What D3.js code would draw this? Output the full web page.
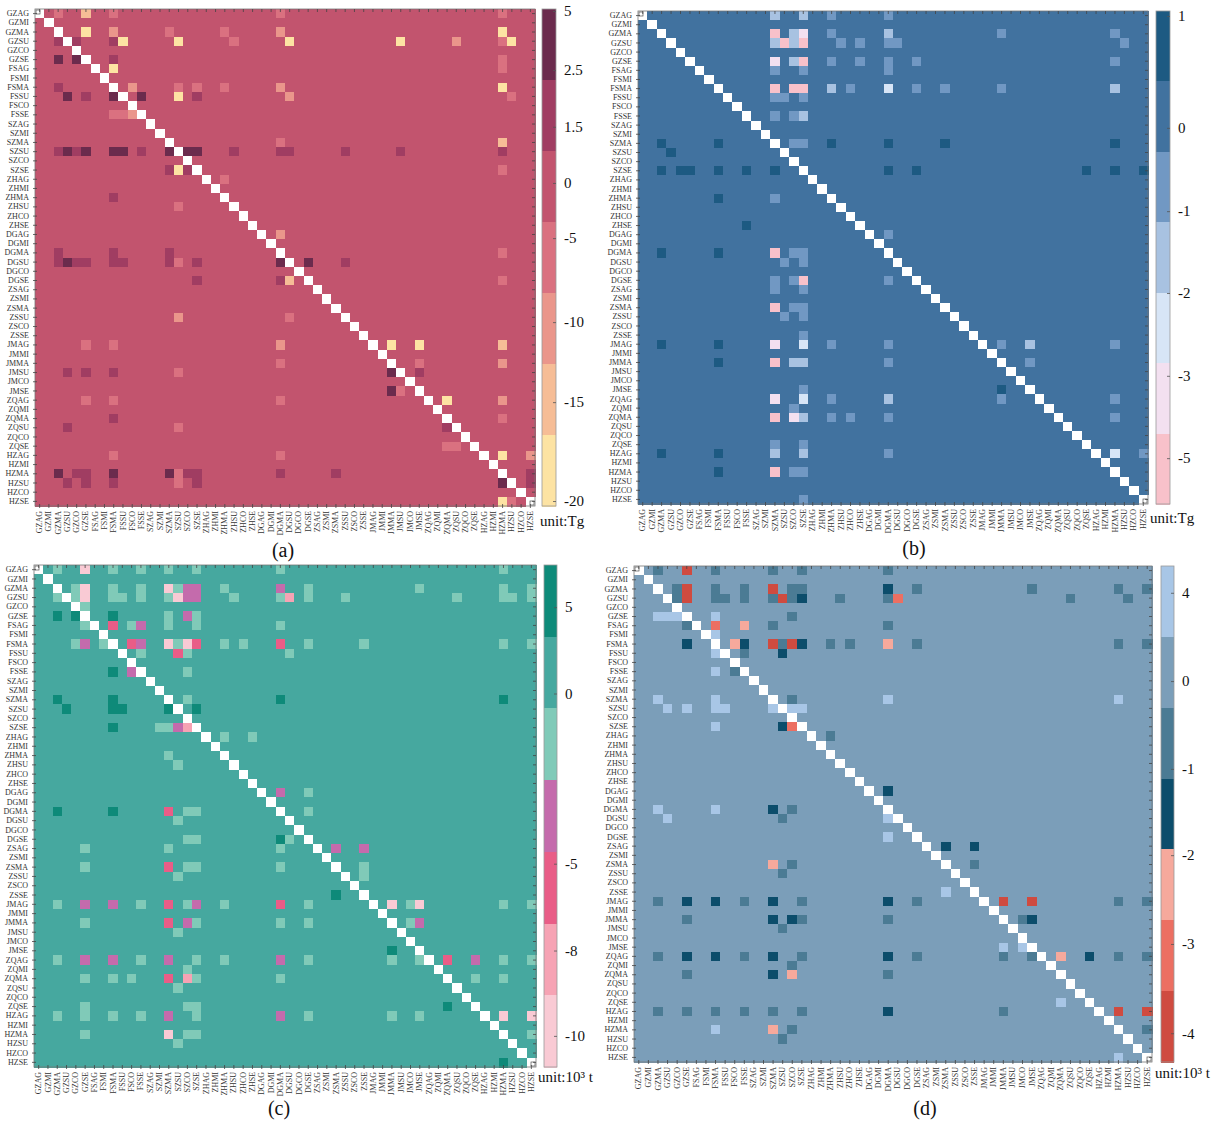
<!DOCTYPE html>
<html>
<head>
<meta charset="utf-8">
<script src="https://cdn.jsdelivr.net/npm/d3@7"></script>
<style>
  body { margin: 0; background: #fff; }
  svg { display: block; }
</style>
</head>
<body>
<svg id="chart" width="1213" height="1124"></svg>
<script>
// cities x sectors -> 54 row/column labels
const cities = ["GZ", "FS", "SZ", "ZH", "DG", "ZS", "JM", "ZQ", "HZ"];
const sectors = ["AG", "MI", "MA", "SU", "CO", "SE"];
const labels = cities.flatMap(c => sectors.map(s => c + s));

// non-background cells, [row, col, value]; everything else is ~0
const cellsA = [
  [0,2,-5],[0,5,-15],[0,8,-5],[0,26,-5],[0,50,-5],
  [2,5,-19],[2,8,-10],[2,14,-5],[2,20,-5],[2,26,-10],[2,50,-19],
  [3,2,1.8],[3,4,1.8],[3,8,1.8],[3,9,-19],[3,15,-19],[3,21,-5],[3,27,-19],[3,39,-19],[3,45,-10],[3,50,-5],[3,51,-19],
  [5,2,3.5],[5,4,3.5],[5,8,1.8],[5,50,-5],
  [6,8,-19],[6,50,-5],
  [8,2,1.8],[8,10,-10],[8,15,-5],[8,17,-5],[8,20,-5],[8,26,-10],[8,50,-19],
  [9,3,3.5],[9,5,1.8],[9,8,3.5],[9,11,3.5],[9,15,-19],[9,17,1.8],[9,27,-10],[9,51,-5],
  [11,8,-5],[11,9,-5],[11,10,-10],
  [14,26,-5],[14,50,-15],
  [15,2,1.8],[15,3,3.5],[15,4,1.8],[15,5,3.5],[15,8,3.5],[15,9,3.5],[15,11,1.8],[15,14,3.5],[15,16,3.5],[15,17,3.5],
  [15,21,1.8],[15,26,1.8],[15,27,1.8],[15,33,1.8],[15,39,1.8],[15,50,1.8],
  [17,14,1.8],[17,15,-19],[17,16,1.8],[17,50,-5],
  [18,20,-5],[20,8,1.8],[21,15,-5],[24,26,-10],
  [26,2,1.8],[26,8,1.8],[26,14,1.8],[26,50,-5],
  [27,2,1.8],[27,3,3.5],[27,4,1.8],[27,5,1.8],[27,8,1.8],[27,9,1.8],[27,14,1.8],[27,15,-5],[27,17,1.8],[27,26,3.5],[27,29,3.5],[27,33,1.8],
  [29,17,1.8],[29,26,1.8],[29,27,-15],[29,50,-5],
  [33,15,-10],[33,27,-5],
  [36,5,-5],[36,8,-5],[36,26,-10],[36,38,-19],[36,41,-19],[36,50,-15],
  [38,26,-5],[38,41,-5],[38,50,-10],
  [39,3,1.8],[39,5,1.8],[39,8,1.8],[39,15,-5],[39,38,3.5],[39,41,1.8],
  [41,38,3.5],[41,39,-5],
  [42,5,-5],[42,8,-5],[42,26,-5],[42,44,-19],[42,50,-10],
  [44,8,1.8],[44,50,-5],
  [45,3,1.8],[45,15,-5],[45,44,1.8],
  [47,44,-5],[47,45,-5],
  [48,8,-5],[48,26,-5],[48,50,-19],[48,53,-10],
  [50,2,3.5],[50,4,1.8],[50,5,1.8],[50,8,3.5],[50,14,3.5],[50,15,-5],[50,16,1.8],[50,17,1.8],[50,26,1.8],[50,32,1.8],[50,53,1.8],
  [51,3,1.8],[51,5,1.8],[51,8,1.8],[51,15,-5],[51,17,1.8],[51,50,3.5],[51,53,1.8],
  [53,50,-19],[53,51,-5]
];

const cellsB = [
  [0,14,-1.5],[0,17,-1.5],[0,20,-0.7],[0,26,-0.7],
  [2,14,-5],[2,16,-1.5],[2,17,-3.5],[2,20,-0.7],[2,26,-1.5],[2,38,-0.7],[2,50,-0.7],
  [3,14,-1.5],[3,15,-5],[3,16,-1.5],[3,17,-5],[3,21,-0.7],[3,23,-0.7],[3,26,-0.7],[3,27,-0.7],[3,51,-0.7],
  [5,14,-3.5],[5,16,-1.5],[5,17,-5],[5,20,-0.7],[5,23,-0.7],[5,26,-0.7],[5,29,-0.7],[5,50,-0.7],
  [6,14,-0.7],[6,17,-0.7],[6,26,-0.7],
  [8,14,-5],[8,16,-5],[8,17,-5],[8,20,-1.5],[8,22,-0.7],[8,26,-2.4],[8,29,-0.7],[8,32,-0.7],[8,38,-0.7],[8,50,-1.5],
  [9,14,-0.7],[9,15,-0.7],[9,17,-0.7],
  [11,14,-0.7],[11,16,-0.7],[11,17,-1.5],
  [14,2,0.7],[14,8,0.7],[14,16,-0.7],[14,17,-0.7],[14,20,0.7],[14,26,0.7],[14,32,0.7],[14,50,0.7],
  [15,3,0.7],
  [17,2,0.7],[17,4,0.7],[17,5,0.7],[17,8,0.7],[17,11,0.7],[17,14,0.7],[17,26,0.7],[17,29,0.7],[17,47,0.7],[17,50,0.7],[17,53,0.7],
  [20,8,0.7],[20,14,-0.7],[23,11,0.7],[24,26,-0.7],
  [26,2,0.7],[26,8,0.7],[26,14,-5],[26,16,-0.7],[26,17,-0.7],
  [27,15,-0.7],[27,17,-0.7],
  [29,14,-0.7],[29,16,-0.7],[29,17,-5],[29,26,-0.7],
  [30,14,-0.7],[30,17,-0.7],
  [32,14,-5],[32,16,-0.7],[32,17,-0.7],
  [33,15,-0.7],[33,17,-0.7],[35,17,-0.7],
  [36,2,0.7],[36,8,0.7],[36,14,-3.5],[36,17,-2.4],[36,20,-0.7],[36,26,-0.7],[36,38,-0.7],[36,41,-1.5],[36,50,-0.7],
  [38,8,0.7],[38,14,-5],[38,16,-1.5],[38,17,-1.5],[38,26,-0.7],[38,41,-0.7],
  [41,17,-0.7],[41,38,0.7],
  [42,14,-3.5],[42,17,-2.4],[42,20,-0.7],[42,26,-1.5],[42,38,-0.7],[42,50,-0.7],
  [43,16,-0.7],
  [44,14,-5],[44,16,-3.5],[44,17,-1.5],[44,20,-0.7],[44,22,-0.7],[44,26,-0.7],[44,50,-0.7],
  [47,14,-0.7],[47,17,-0.7],
  [48,2,0.7],[48,8,0.7],[48,14,-1.5],[48,17,-1.5],[48,26,-0.7],[48,50,-2.4],[48,53,-0.7],
  [50,8,0.7],[50,14,-5],[50,16,-0.7],[50,17,-0.7],
  [53,17,-0.7]
];

const cellsC = [
  [0,2,-1.5],[0,5,-10],[0,8,-1.5],[0,11,-1.5],[0,14,-1.5],[0,17,-1.5],[0,26,-1.5],[0,50,-1.5],
  [2,4,-1.5],[2,5,-10],[2,8,-1.5],[2,11,-1.5],[2,14,-10],[2,15,-1.5],[2,16,-3.5],[2,17,-3.5],[2,20,-1.5],[2,26,-3.5],[2,29,-1.5],[2,41,-1.5],[2,50,-1.5],[2,53,-1.5],
  [3,2,-1.5],[3,4,-1.5],[3,5,-10],[3,8,-1.5],[3,9,-1.5],[3,11,-1.5],[3,14,-1.5],[3,15,-10],[3,16,-3.5],[3,17,-3.5],[3,21,-1.5],
  [3,26,-1.5],[3,27,-8],[3,29,-1.5],[3,33,-1.5],[3,45,-1.5],[3,50,-1.5],[3,51,-1.5],[3,53,-1.5],
  [4,5,-1.5],
  [5,2,5.5],[5,4,5.5],[5,8,5.5],[5,14,-1.5],[5,16,-3.5],[5,17,-1.5],
  [6,5,-1.5],[6,8,-6],[6,10,-1.5],[6,11,-3.5],[6,14,-1.5],[6,17,-1.5],[6,26,-1.5],
  [8,4,-1.5],[8,5,-3.5],[8,7,-1.5],[8,10,-6],[8,11,-3.5],[8,14,-10],[8,15,-1.5],[8,16,-10],[8,17,-6],[8,20,-1.5],[8,22,-1.5],
  [8,26,-6],[8,29,-1.5],[8,35,-1.5],[8,50,-1.5],[8,53,-1.5],
  [9,11,-1.5],[9,15,-6],[9,16,-1.5],[9,27,-1.5],
  [11,8,5.5],[11,10,-3.5],[11,16,-1.5],
  [14,2,5.5],[14,8,5.5],[14,16,-1.5],[14,26,5.5],[14,50,5.5],
  [15,3,5.5],[15,8,5.5],[15,9,5.5],[15,14,5.5],[15,17,5.5],
  [17,8,5.5],[17,13,-1.5],[17,14,-1.5],[17,15,-3.5],[17,16,-8],
  [18,20,-1.5],[18,23,-1.5],[20,14,-1.5],[21,15,-1.5],
  [24,26,-3.5],[24,29,-1.5],
  [26,2,5.5],[26,8,5.5],[26,14,-6],[26,16,-1.5],[26,17,-1.5],[26,29,-1.5],
  [27,15,-1.5],
  [29,16,-1.5],[29,17,-1.5],[29,26,5.5],[29,27,-1.5],
  [30,5,-1.5],[30,14,-1.5],[30,26,-1.5],[30,32,-3.5],[30,35,-3.5],
  [32,5,-1.5],[32,14,-6],[32,16,-1.5],[32,17,-1.5],[32,26,-1.5],[32,35,-1.5],
  [33,15,-1.5],[33,35,-1.5],[35,32,5.5],
  [36,2,-1.5],[36,5,-3.5],[36,8,-3.5],[36,11,-1.5],[36,14,-6],[36,16,-1.5],[36,17,-3.5],[36,20,-1.5],[36,26,-6],[36,29,-1.5],
  [36,38,-10],[36,40,-1.5],[36,41,-10],[36,50,-1.5],[36,53,-1.5],
  [38,5,-1.5],[38,14,-6],[38,16,-3.5],[38,17,-1.5],[38,26,-1.5],[38,29,-1.5],[38,40,-1.5],[38,41,-3.5],
  [39,15,-1.5],[41,38,5.5],
  [42,2,-1.5],[42,5,-3.5],[42,8,-3.5],[42,11,-1.5],[42,14,-3.5],[42,17,-1.5],[42,20,-1.5],[42,26,-3.5],[42,29,-1.5],
  [42,38,-1.5],[42,41,-1.5],[42,44,-6],[42,47,-3.5],[42,50,-1.5],[42,53,-1.5],
  [43,16,-1.5],
  [44,5,-1.5],[44,8,-1.5],[44,10,-1.5],[44,14,-6],[44,16,-8],[44,17,-1.5],[44,26,-1.5],[44,47,-1.5],[44,50,-1.5],
  [45,15,-1.5],
  [47,5,-1.5],[47,16,-1.5],[47,17,-1.5],[47,44,5.5],
  [48,2,-1.5],[48,5,-1.5],[48,8,-1.5],[48,11,-1.5],[48,14,-3.5],[48,17,-1.5],[48,26,-3.5],[48,29,-1.5],[48,38,-1.5],[48,41,-1.5],[48,50,-10],[48,53,-10],
  [50,5,-1.5],[50,14,-10],[50,16,-1.5],[50,17,-1.5],[50,53,-1.5],
  [51,15,-1.5],[53,50,5.5]
];

const cellsD = [
  [0,2,-0.7],[0,5,-4],[0,8,-0.7],[0,14,-0.7],[0,17,-0.7],[0,26,-0.7],
  [2,4,-0.7],[2,5,-4],[2,8,-0.7],[2,11,-0.7],[2,14,-4],[2,16,-0.7],[2,17,-0.7],[2,26,-1.5],[2,29,-0.7],[2,41,-0.7],[2,50,-0.7],[2,53,-0.7],
  [3,4,-0.7],[3,5,-4],[3,8,-0.7],[3,9,-0.7],[3,11,-0.7],[3,14,-0.7],[3,15,-4],[3,16,-0.7],[3,17,-1.5],[3,21,-0.7],[3,26,-0.7],[3,27,-3.2],[3,45,-0.7],[3,51,-0.7],
  [5,2,3],[5,3,3],[5,4,3],[5,8,3],[5,16,-0.7],
  [6,5,-0.7],[6,8,-3.2],[6,11,-2.4],[6,14,-0.7],[6,26,-0.7],
  [7,8,3],
  [8,5,-1.5],[8,10,-2.4],[8,11,-1.5],[8,14,-4],[8,15,-0.7],[8,16,-4],[8,17,-1.5],[8,20,-0.7],[8,22,-0.7],[8,26,-2.4],[8,29,-0.7],[8,50,-0.7],[8,53,-0.7],
  [9,8,3],[9,11,-0.7],[9,15,-1.5],
  [11,8,3],[11,10,-0.7],
  [14,2,3],[14,8,3],[14,16,-0.7],[14,26,3],[14,50,3],
  [15,3,3],[15,5,3],[15,8,3],[15,9,3],[15,14,3],[15,16,3],[15,17,3],
  [17,8,3],[17,15,-1.5],[17,16,-3.2],
  [18,20,-0.7],[24,26,-1.5],
  [26,2,3],[26,8,3],[26,14,-1.5],[26,16,-0.7],
  [27,3,3],[27,15,-0.7],[27,26,3],
  [29,26,3],
  [30,32,-1.5],[30,35,-1.5],
  [32,14,-2.4],[32,16,-0.7],[32,35,-0.7],
  [33,15,-0.7],[35,32,3],
  [36,2,-0.7],[36,5,-1.5],[36,8,-1.5],[36,11,-0.7],[36,14,-1.5],[36,17,-0.7],[36,26,-1.5],[36,29,-0.7],[36,38,-4],[36,41,-4],[36,50,-0.7],[36,53,-0.7],
  [38,5,-0.7],[38,14,-1.5],[38,16,-1.5],[38,17,-0.7],[38,26,-0.7],[38,40,-0.7],[38,41,-1.5],
  [39,15,-0.7],
  [41,38,3],[41,40,3],
  [42,2,-0.7],[42,5,-1.5],[42,8,-1.5],[42,11,-0.7],[42,14,-1.5],[42,17,-0.7],[42,26,-1.5],[42,29,-0.7],
  [42,38,-0.7],[42,41,-0.7],[42,44,-2.4],[42,47,-1.5],[42,50,-0.7],[42,53,-0.7],
  [43,16,-0.7],
  [44,5,-0.7],[44,14,-1.5],[44,16,-2.4],[44,26,-0.7],
  [47,44,3],
  [48,2,-0.7],[48,5,-0.7],[48,8,-0.7],[48,11,-0.7],[48,14,-0.7],[48,17,-0.7],[48,26,-1.5],[48,38,-0.7],[48,50,-4],[48,53,-4],
  [50,8,3],[50,14,-2.4],[50,16,-0.7],[50,53,-0.7],
  [51,15,-0.7],[53,50,3]
];

// colour classes (low -> high) and their break values
const thresholdsA = [-16.7, -12.7, -8.3, -3.5, 0.9, 2.3];
const colorsA = ["#fde3a3", "#f6bd96", "#ea968b", "#da7180", "#c2546e", "#a03d62", "#6b2b4d"];
const ticksA = [5, 2.5, 1.5, 0, -5, -10, -15, -20];

const thresholdsB = [-4.45, -2.84, -1.98, -1.13, -0.27, 0.42];
const colorsB = ["#f8c1ca", "#f3e0f0", "#d7e5f6", "#a8c2e1", "#7198c3", "#41729f", "#1d5a82"];
const ticksB = [1, 0, -1, -2, -3, -5];

const thresholdsC = [-9.06, -7.07, -4.65, -2.56, -0.44, 3.3];
const colorsC = ["#f9cad4", "#f6a3b4", "#e95d87", "#c46bac", "#80cab8", "#46a89f", "#0e8a79"];
const ticksC = [5, 0, -5, -8, -10];

const thresholdsD = [-3.54, -2.74, -1.94, -1.1, -0.31, 1.95];
const colorsD = ["#cf4b40", "#ec6f62", "#f6a99c", "#0c4d6b", "#4b7b94", "#7b9eb9", "#a8c6e6"];
const ticksD = [4, 0, -1, -2, -3, -4];

const panels = [
  { cells: cellsA, thresholds: thresholdsA, colors: colorsA, ticks: ticksA,
    tickPos: [0.004, 0.123, 0.237, 0.35, 0.461, 0.63, 0.791, 0.99],
    unit: "unit:Tg", caption: "(a)",
    grid: [35, 535, 9, 506], bar: [542, 556], unitAt: [540, 526], capAt: [283, 557] },
  { cells: cellsB, thresholds: thresholdsB, colors: colorsB, ticks: ticksB,
    tickPos: [0.01, 0.237, 0.406, 0.572, 0.74, 0.907],
    unit: "unit:Tg", caption: "(b)",
    grid: [638, 1148, 11, 504], bar: [1156, 1170], unitAt: [1150, 523], capAt: [914, 555] },
  { cells: cellsC, thresholds: thresholdsC, colors: colorsC, ticks: ticksC,
    tickPos: [0.084, 0.256, 0.595, 0.768, 0.938],
    unit: "unit:10³ t", caption: "(c)",
    grid: [34, 536, 565, 1067], bar: [544, 557], unitAt: [538, 1082], capAt: [279, 1115] },
  { cells: cellsD, thresholds: thresholdsD, colors: colorsD, ticks: ticksD,
    tickPos: [0.054, 0.232, 0.409, 0.583, 0.762, 0.942],
    unit: "unit:10³ t", caption: "(d)",
    grid: [634, 1152, 566, 1062], bar: [1161, 1174], unitAt: [1155, 1078], capAt: [925, 1115] }
];

const svg = d3.select("#chart");
const serif = "'Liberation Serif', 'DejaVu Serif', serif";

function drawPanel(p) {
  const [gx0, gx1, gy0, gy1] = p.grid;
  const x = d3.scaleBand().domain(labels).range([gx0, gx1]);
  const y = d3.scaleBand().domain(labels).range([gy0, gy1]);
  const color = d3.scaleThreshold().domain(p.thresholds).range(p.colors);

  const lookup = new Map(p.cells.map(d => [d[0] + "," + d[1], d[2]]));
  const matrix = [];
  labels.forEach((rl, r) => labels.forEach((cl, c) => {
    matrix.push({ row: rl, col: cl, diag: r === c, value: lookup.get(r + "," + c) ?? 0 });
  }));

  const g = svg.append("g");

  g.selectAll("rect.cell")
    .data(matrix)
    .join("rect")
    .attr("class", "cell")
    .attr("x", d => x(d.col))
    .attr("y", d => y(d.row))
    .attr("width", x.bandwidth() + 0.5)
    .attr("height", y.bandwidth() + 0.5)
    .attr("shape-rendering", "crispEdges")
    .attr("fill", d => d.diag ? "#ffffff" : color(d.value));

  // frame
  g.append("rect")
    .attr("x", gx0).attr("y", gy0)
    .attr("width", gx1 - gx0).attr("height", gy1 - gy0)
    .attr("fill", "none").attr("stroke", "#777").attr("stroke-width", 0.8);

  // little corner squares on the first and last diagonal cells
  g.append("rect").attr("x", gx0 + 1).attr("y", gy0 + 1).attr("width", 4).attr("height", 4)
    .attr("fill", "none").attr("stroke", "#555").attr("stroke-width", 0.7);
  g.append("rect").attr("x", gx1 - 5).attr("y", gy1 - 5).attr("width", 4).attr("height", 4)
    .attr("fill", "none").attr("stroke", "#555").attr("stroke-width", 0.7);

  // axes: labels on left and bottom, short ticks on all four sides
  const ga = g.append("g").attr("transform", `translate(${gx0},0)`)
    .call(d3.axisLeft(y).tickSize(3).tickPadding(3));
  const gb = g.append("g").attr("transform", `translate(0,${gy1})`)
    .call(d3.axisBottom(x).tickSize(3).tickPadding(3));
  const gt = g.append("g").attr("transform", `translate(0,${gy0})`)
    .call(d3.axisBottom(x).tickSize(3).tickFormat(""));
  const gr = g.append("g").attr("transform", `translate(${gx1},0)`)
    .call(d3.axisLeft(y).tickSize(3).tickFormat(""));
  [ga, gb, gt, gr].forEach(a => {
    a.select(".domain").remove();
    a.selectAll("line").attr("stroke", "#444").attr("stroke-width", 0.8);
  });
  ga.selectAll("line").attr("x1", 2).attr("x2", -2);
  gb.selectAll("line").attr("y1", -2).attr("y2", 2);
  ga.selectAll("text").attr("font-family", serif).attr("font-size", 8).attr("fill", "#333");
  gb.selectAll("text")
    .attr("font-family", serif).attr("font-size", 8).attr("fill", "#333")
    .attr("transform", "rotate(-90)")
    .attr("text-anchor", "end")
    .attr("dy", "0.32em")
    .attr("x", -5).attr("y", 0);

  // colour bar
  const [bx0, bx1] = p.bar;
  const bands = p.colors.slice().reverse();
  const by = d3.scaleBand().domain(d3.range(bands.length)).range([gy0, gy1]);
  const cb = svg.append("g");
  cb.selectAll("rect")
    .data(bands)
    .join("rect")
    .attr("x", bx0)
    .attr("y", (d, i) => by(i))
    .attr("width", bx1 - bx0)
    .attr("height", by.bandwidth() + 0.5)
    .attr("shape-rendering", "crispEdges")
    .attr("fill", d => d);
  cb.append("rect")
    .attr("x", bx0).attr("y", gy0).attr("width", bx1 - bx0).attr("height", gy1 - gy0)
    .attr("fill", "none").attr("stroke", "#999").attr("stroke-width", 0.8);

  const ty = d3.scaleLinear()
    .domain(p.ticks)
    .range(p.tickPos.map(f => gy0 + f * (gy1 - gy0)));
  const ca = cb.append("g")
    .attr("transform", `translate(${bx1},0)`)
    .call(d3.axisRight(ty).tickValues(p.ticks).tickSize(3).tickPadding(5).tickFormat(d => String(d)));
  ca.select(".domain").remove();
  ca.selectAll("line").attr("x1", -3).attr("x2", 0).attr("stroke", "#555").attr("stroke-width", 0.8);
  ca.selectAll("text").attr("font-family", serif).attr("font-size", 15).attr("fill", "#111");

  svg.append("text")
    .attr("x", p.unitAt[0]).attr("y", p.unitAt[1])
    .attr("font-family", serif).attr("font-size", 15).attr("fill", "#111")
    .text(p.unit);

  svg.append("text")
    .attr("x", p.capAt[0]).attr("y", p.capAt[1])
    .attr("text-anchor", "middle")
    .attr("font-family", serif).attr("font-size", 20).attr("fill", "#111")
    .text(p.caption);
}

panels.forEach(drawPanel);
</script>
</body>
</html>
